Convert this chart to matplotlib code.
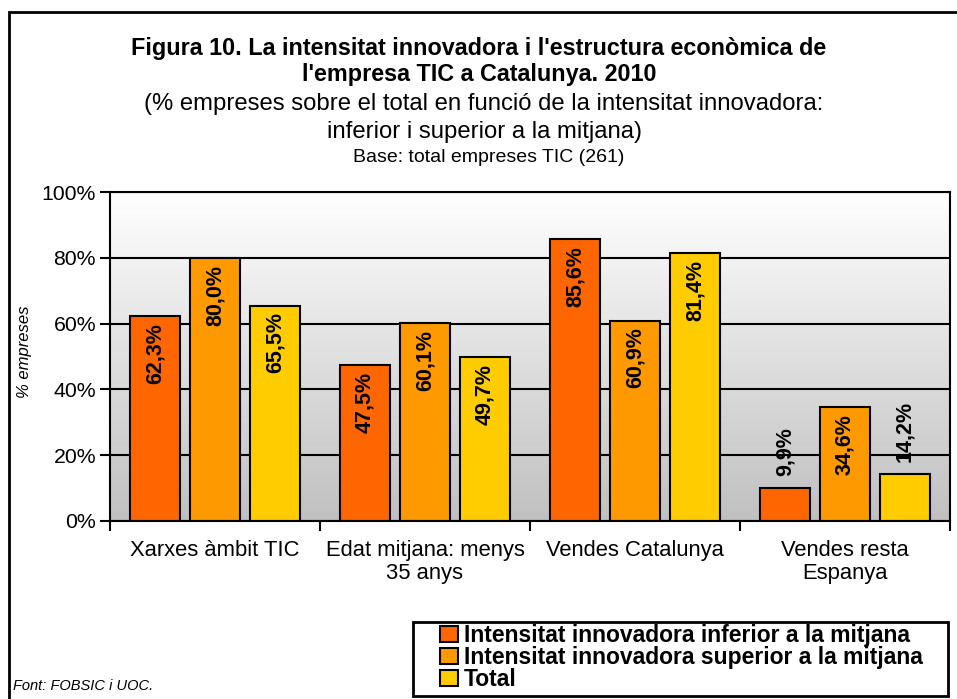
import matplotlib.pyplot as plt
import numpy as np
from matplotlib.patches import Rectangle
from matplotlib.colors import LinearSegmentedColormap

plt.rcParams['font.family'] = ['Liberation Sans', 'DejaVu Sans']

categories = ["Xarxes àmbit TIC", "Edat mitjana: menys\n35 anys", "Vendes Catalunya", "Vendes resta\nEspanya"]
inferior = [62.3, 47.5, 85.6, 9.9]
superior = [80.0, 60.1, 60.9, 34.6]
total = [65.5, 49.7, 81.4, 14.2]
series_names = ["Intensitat innovadora inferior a la mitjana",
                "Intensitat innovadora superior a la mitjana",
                "Total"]
colors = ["#FF6600", "#FF9900", "#FFCC00"]

fig = plt.figure(figsize=(9.57, 6.99), dpi=100)
ax = fig.add_axes([110 / 957, 1 - 521 / 699, 840 / 957, 329 / 699])

# fons en degradat (blanc a dalt, gris a baix)
cmap = LinearSegmentedColormap.from_list("fons", ["#C0C0C0", "#FFFFFF"])
grad = np.linspace(0, 1, 256).reshape(-1, 1)
ax.imshow(grad, extent=[-0.5, 3.5, 0, 100], aspect='auto', cmap=cmap,
          zorder=0, origin='lower')

x = np.arange(len(categories))
w = 50 / 210
step = 60 / 210
for i, (vals, c, name) in enumerate(zip([inferior, superior, total], colors, series_names)):
    pos = x + (i - 1) * step
    ax.bar(pos, vals, width=w, color=c, edgecolor='black', linewidth=1.5, zorder=3, label=name)
    for p, v in zip(pos, vals):
        txt = f"{v:.1f}%".replace('.', ',')
        if v > 20:
            ax.annotate(txt, (p, v), xytext=(0, -5), textcoords='offset points',
                        rotation=90, ha='center', va='top', fontsize=15.5,
                        fontweight='bold', zorder=4)
        else:
            ax.annotate(txt, (p, v), xytext=(0, 9), textcoords='offset points',
                        rotation=90, ha='center', va='bottom', fontsize=15.5,
                        fontweight='bold', zorder=4)

ax.set_xlim(-0.5, 3.5)
ax.set_ylim(0, 100)
ax.set_yticks([0, 20, 40, 60, 80, 100])
ax.set_yticklabels([f"{v}%" for v in range(0, 101, 20)], fontsize=15.3)
ax.yaxis.grid(True, color='black', linewidth=1.5, zorder=1)
ax.set_axisbelow(True)
ax.set_xticks(x)
ax.set_xticklabels(categories, fontsize=15.8, linespacing=1.1)
ax.set_xticks(np.arange(-0.5, 4, 1), minor=True)
ax.tick_params(axis='x', which='major', length=0, pad=14)
ax.tick_params(axis='x', which='minor', length=7, width=1.5)
ax.tick_params(axis='y', length=7, width=1.5, pad=3)
for s in ax.spines.values():
    s.set_linewidth(1.5)
    s.set_zorder(5)

fig.text(25 / 957, 1 - 352 / 699, "% empreses", rotation=90, style='italic',
         fontsize=12, ha='center', va='center')

fig.text(479 / 957, 1 - 48 / 699, "Figura 10. La intensitat innovadora i l'estructura econòmica de",
         fontsize=16.8, fontweight='bold', ha='center', va='center')
fig.text(479 / 957, 1 - 75 / 699, "l'empresa TIC a Catalunya. 2010",
         fontsize=16.8, fontweight='bold', ha='center', va='center')
fig.text(484 / 957, 1 - 104 / 699, "(% empreses sobre el total en funció de la intensitat innovadora:",
         fontsize=17.2, ha='center', va='center')
fig.text(484 / 957, 1 - 132 / 699, "inferior i superior a la mitjana)",
         fontsize=17.2, ha='center', va='center')
fig.text(489 / 957, 1 - 158 / 699, "Base: total empreses TIC (261)",
         fontsize=14, ha='center', va='center')

fig.text(13 / 957, 1 - 686 / 699, "Font: FOBSIC i UOC.", style='italic',
         fontsize=10.5, ha='left', va='center')

# marc exterior (el costat dret queda fora de la imatge)
fig.patches.append(Rectangle((9 / 957, -0.01), 1.0, 1 - 12 / 699 + 0.01,
                             transform=fig.transFigure, fill=False,
                             edgecolor='black', linewidth=2))
# marc de la llegenda
fig.patches.append(Rectangle((413 / 957, 1 - 696 / 699), 535 / 957, 74 / 699,
                             transform=fig.transFigure, fill=True, facecolor='white',
                             edgecolor='black', linewidth=2))

leg = fig.legend(loc='upper left', bbox_to_anchor=(440 / 957, 1 - 624 / 699),
                 prop={'weight': 'bold', 'size': 16.5},
                 handlelength=0.8, handleheight=0.7, handletextpad=0.25,
                 labelspacing=-0.05, borderpad=0, borderaxespad=0, frameon=False)

fig.savefig("out.png", dpi=100)
